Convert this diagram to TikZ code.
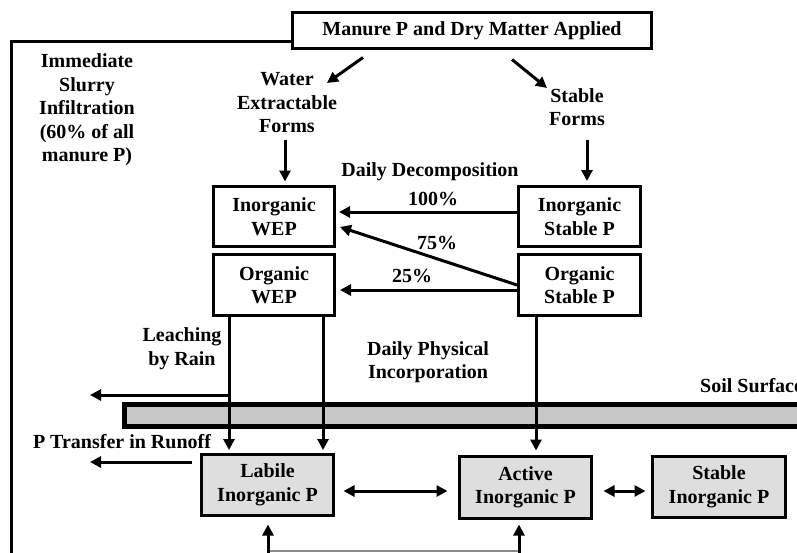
\documentclass[tikz,border=0pt]{standalone}
\usepackage{fontspec}
\setmainfont{Liberation Serif}
\usetikzlibrary{arrows.meta}
\begin{document}
\begin{tikzpicture}[x=1pt,y=-1pt,
  every node/.style={font=\fontsize{20}{23.5}\selectfont\bfseries, align=center, inner sep=0pt},
  box/.style={draw, line width=3pt, minimum width=121pt, minimum height=60pt},
  gbox/.style={box, fill=black!13},
  arr/.style={line width=3pt, -{Triangle[length=11pt,width=11pt]}},
  darr/.style={line width=3pt, {Triangle[length=11pt,width=11pt]}-{Triangle[length=11pt,width=11pt]}},
  ln/.style={line width=3pt}]
\useasboundingbox (0,0) rectangle (797,552);
\clip (0,0) rectangle (797,552);
% soil bar
\draw[line width=5pt, fill=black!22] (124.5,404.5) rectangle (830,426.5);
% boxes
\node[box, minimum width=359pt, minimum height=36pt] (top) at (472,30.5) {Manure P and Dry Matter Applied};
\node[box] (iwep) at (274,216.5) {Inorganic\\WEP};
\node[box, minimum height=61pt] (owep) at (274,285) {Organic\\WEP};
\node[box, minimum width=122pt] (isp) at (579.5,216.5) {Inorganic\\Stable P};
\node[box, minimum width=122pt, minimum height=61pt] (osp) at (579.5,285) {Organic\\Stable P};
\node[gbox, minimum width=132pt, minimum height=61pt] (lab) at (267.5,485) {Labile\\Inorganic P};
\node[gbox, minimum width=132pt, minimum height=62pt] (act) at (525.5,487.5) {Active\\Inorganic P};
\node[gbox, minimum width=133pt, minimum height=61pt] (sta) at (719,487) {Stable\\Inorganic P};
% text labels
\node (wef) at (287,103) {Water\\Extractable\\Forms};
\node (sf) at (577,107) {Stable\\Forms};
\node (isi) at (87,110) {Immediate\\Slurry\\Infiltration\\(60\% of all\\manure P)};
\node (dd) at (430,172) {Daily Decomposition};
\node (p100) at (433,199) {100\%};
\node (p75) at (437,243) {75\%};
\node (p25) at (412,276) {25\%};
\node (lr) at (182,348.5) {Leaching\\by Rain};
\node (dpi) at (428,362) {Daily Physical\\Incorporation};
\node[anchor=west] (ss) at (700,386) {Soil Surface};
\node (ptr) at (122,442) {P Transfer in Runoff};
% coordinates
\coordinate (tl) at (11,41);
\coordinate (bl) at (11,560);
\coordinate (lk) at (229,395);
\coordinate (lkend) at (90,395);
\coordinate (roend) at (90,462);
\coordinate (b1) at (268,560);
\coordinate (b2) at (519,560);
\coordinate (g1) at (268,551);
\coordinate (g2) at (519,551);
% left big line
\draw[ln] (top.west |- tl) -- (tl) -- (bl);
% top arrows
\draw[arr] ([shift={(-109,7.5)}]top.south) -- ([shift={(40,-20)}]wef.center);
\draw[arr] ([shift={(40,9.5)}]top.south) -- ([shift={(-30,-19)}]sf.center);
\draw[arr] ([shift={(-2,37)}]wef.center) -- ([shift={(11,-3.5)}]iwep.north);
\draw[arr] ([shift={(10,33)}]sf.center) -- ([shift={(7.5,-4)}]isp.north);
% decomposition
\draw[arr] ([yshift=4.5pt]isp.west) -- ([shift={(3,-4.5)}]iwep.east);
\draw[arr] (osp.west) -- ([shift={(4,10.5)}]iwep.east);
\draw[arr] ([yshift=-5pt]osp.west) -- ([shift={(4,5)}]owep.east);
% down lines
\draw[arr] ([xshift=-45pt]owep.south) -- ([shift={(-38.5,-3)}]lab.north);
\draw[arr] ([xshift=49pt]owep.south) -- ([shift={(55.5,-3)}]lab.north);
\draw[arr] ([xshift=-43.5pt]osp.south) -- ([shift={(10.5,-4.5)}]act.north);
% leaching and runoff
\draw[arr] (lk) -- (lkend);
\draw[arr] ([shift={(-8.5,-23)}]lab.west) -- (roend);
% double arrows
\draw[darr] ([shift={(8.5,6)}]lab.east) -- ([shift={(-10.5,3.5)}]act.west);
\draw[darr] ([shift={(10.5,3.5)}]act.east) -- ([shift={(-5.5,4)}]sta.west);
% bottom
\draw[black!45, line width=1.5pt] (g1) -- (g2);
\draw[arr] (b1) -- ([shift={(0.5,7.5)}]lab.south);
\draw[arr] (b2) -- ([shift={(-6.5,4.5)}]act.south);
\end{tikzpicture}
\end{document}
